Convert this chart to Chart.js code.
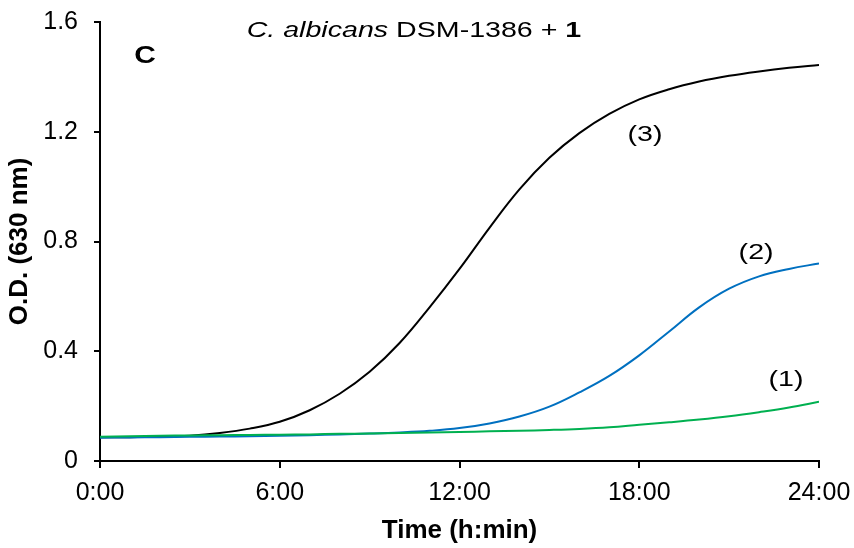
<!DOCTYPE html>
<html>
<head>
<meta charset="utf-8">
<script src="https://cdn.jsdelivr.net/npm/chart.js@4.4.1/dist/chart.umd.min.js"></script>
<style>
html,body{margin:0;padding:0;background:#fff;}
#wrap{width:854px;height:548px;}
</style>
</head>
<body>
<div id="wrap"><canvas id="c" width="854" height="548"></canvas></div>
<script>
// Time in hours
const hours = [0,1,2,3,4,5,6,7,8,9,10,11,12,13,14,15,16,17,18,19,20,21,22,23,24];
// (1) green
const series1 = [0.088,0.090,0.092,0.093,0.094,0.095,0.096,0.097,0.099,0.100,0.102,0.104,0.106,0.108,0.110,0.113,0.117,0.123,0.132,0.141,0.151,0.163,0.178,0.195,0.216];
// (2) blue
const series2 = [0.085,0.086,0.087,0.088,0.089,0.090,0.092,0.094,0.097,0.100,0.104,0.110,0.120,0.137,0.162,0.198,0.250,0.310,0.385,0.472,0.560,0.628,0.673,0.700,0.720];
// (3) black
const series3 = [0.087,0.087,0.088,0.092,0.102,0.118,0.143,0.185,0.245,0.325,0.430,0.560,0.700,0.850,0.990,1.105,1.195,1.265,1.318,1.355,1.383,1.404,1.420,1.433,1.443];
const xTickLabels = ['0:00','6:00','12:00','18:00','24:00'];
const yTickLabels = ['0','0.4','0.8','1.2','1.6'];
const seriesNames = ['(1)','(2)','(3)'];
const titleParts = ['C. albicans',' DSM-1386 + ','1'];
const panelLetter = 'C';
const xTitle = 'Time (h:min)';
const yTitle = 'O.D. (630 nm)';

const FONT = '"Liberation Sans", Arial, sans-serif';
const mk = (arr) => hours.map((h,i) => ({x:h, y:arr[i]}));

const textPlugin = {
  id: 'textPlugin',
  afterDraw(chart) {
    const ctx = chart.ctx;
    const xs = chart.scales.x, ys = chart.scales.y;
    const SX = 1.3;
    function stretchText(str, cx, cy, font) {
      ctx.save();
      ctx.font = font;
      ctx.fillStyle = '#000';
      ctx.textAlign = 'center';
      ctx.textBaseline = 'middle';
      ctx.translate(cx, cy);
      ctx.scale(SX, 1);
      ctx.fillText(str, 0, 0);
      ctx.restore();
    }
    // series labels
    stretchText(seriesNames[2], xs.getPixelForValue(18.19), ys.getPixelForValue(1.19), '22px ' + FONT);
    stretchText(seriesNames[1], xs.getPixelForValue(21.9), ys.getPixelForValue(0.76), '22px ' + FONT);
    stretchText(seriesNames[0], xs.getPixelForValue(22.9), ys.getPixelForValue(0.297), '22px ' + FONT);
    // panel letter
    stretchText(panelLetter, xs.getPixelForValue(1.5), ys.getPixelForValue(1.473), 'bold 23px ' + FONT);
    // title
    const fonts = ['italic 22px ' + FONT, '22px ' + FONT, 'bold 22px ' + FONT];
    ctx.save();
    let widths = titleParts.map((t,i) => { ctx.font = fonts[i]; return ctx.measureText(t).width; });
    const total = widths.reduce((a,b)=>a+b,0);
    const cx = xs.getPixelForValue(10.48), cy = ys.getPixelForValue(1.568);
    ctx.translate(cx, cy);
    ctx.scale(SX, 1);
    ctx.fillStyle = '#000';
    ctx.textBaseline = 'middle';
    ctx.textAlign = 'left';
    let x = -total/2;
    titleParts.forEach((t,i) => { ctx.font = fonts[i]; ctx.fillText(t, x, 0); x += widths[i]; });
    ctx.restore();
  }
};

new Chart(document.getElementById('c'), {
  type: 'line',
  data: {
    datasets: [
      {label: seriesNames[0], data: mk(series1), borderColor: '#00b050', borderWidth: 2, pointRadius: 0, tension: 0.4, fill: false},
      {label: seriesNames[1], data: mk(series2), borderColor: '#0070c0', borderWidth: 2, pointRadius: 0, tension: 0.4, fill: false},
      {label: seriesNames[2], data: mk(series3), borderColor: '#000000', borderWidth: 2, pointRadius: 0, tension: 0.4, fill: false}
    ]
  },
  options: {
    responsive: false,
    animation: false,
    events: [],
    layout: {padding: {left: 0, right: 35, top: 22, bottom: 0}},
    plugins: {legend: {display: false}, tooltip: {enabled: false}, title: {display: false}},
    scales: {
      x: {
        type: 'linear', min: 0, max: 24,
        afterFit(s) { s.height = 87; s.paddingLeft = 0; s.paddingRight = 0; },
        border: {display: true, color: '#000', width: 2},
        grid: {display: true, drawOnChartArea: false, drawTicks: true, tickLength: 7, color: '#000', lineWidth: 2},
        ticks: {stepSize: 6, color: '#000', padding: 10, maxRotation: 0, font: {family: FONT, size: 25},
          callback: (v) => xTickLabels[Math.round(v/6)] ?? ''},
        title: {display: true, text: xTitle, color: '#000', font: {family: FONT, size: 26, weight: 'bold'}, padding: {top: 0, bottom: 2}}
      },
      y: {
        min: 0, max: 1.6,
        afterFit(s) { s.width = 100; s.paddingTop = 0; s.paddingBottom = 0; },
        border: {display: true, color: '#000', width: 2},
        grid: {display: true, drawOnChartArea: false, drawTicks: true, tickLength: 6, color: '#000', lineWidth: 2},
        ticks: {stepSize: 0.4, color: '#000', padding: 16, font: {family: FONT, size: 25},
          callback: (v) => yTickLabels[Math.round(v/0.4)] ?? ''},
        title: {display: true, text: yTitle, color: '#000', font: {family: FONT, size: 26, weight: 'bold'}, padding: {top: 4, bottom: 0}}
      }
    }
  },
  plugins: [textPlugin]
});
</script>
</body>
</html>
